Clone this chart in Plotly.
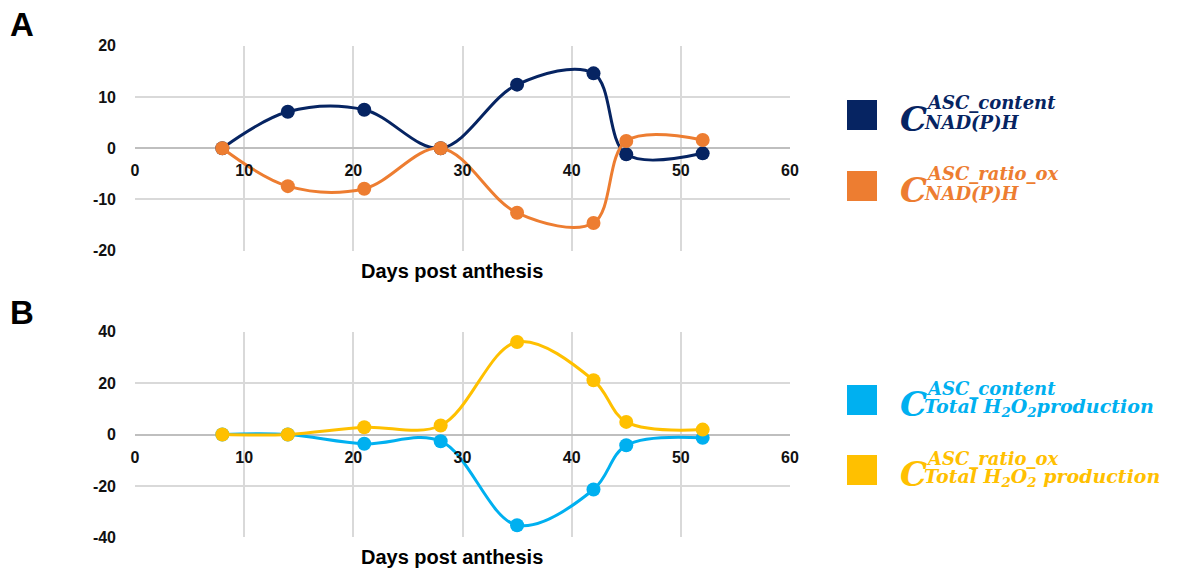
import plotly.graph_objects as go

# Days post anthesis
days = [8, 14, 21, 28, 35, 42, 45, 52]

# Panel A
nadph_content = [0, 7.1, 7.5, 0, 12.4, 14.6, -1.2, -1.0]
nadph_ratio_ox = [0, -7.4, -7.9, 0, -12.6, -14.6, 1.4, 1.6]

# Panel B
h2o2_content = [0, 0, -3.6, -2.6, -35.3, -21.4, -4.2, -1.3]
h2o2_ratio_ox = [0, 0, 2.8, 3.5, 36.0, 21.1, 4.9, 1.9]

# tick values / labels (hyphen minus as in the original)
x_ticks = [0, 10, 20, 30, 40, 50, 60]
y_ticks_a = [-20, -10, 0, 10, 20]
y_ticks_b = [-40, -20, 0, 20, 40]

NAVY = "#062462"
ORANGE = "#ED7D31"
SKY = "#00B0F0"
GOLD = "#FFC000"

W, H = 1182, 571
dom_x = [135 / W, 790 / W]
dom_a = [1 - 250.7 / H, 1 - 45.7 / H]
dom_b = [1 - 537.3 / H, 1 - 331.7 / H]

fig = go.Figure()


def add_series(x, y, color, xa, ya):
    fig.add_trace(go.Scatter(
        x=x, y=y, mode="lines+markers",
        line=dict(color=color, width=3, shape="spline", smoothing=1.0),
        marker=dict(color=color, size=14),
        xaxis=xa, yaxis=ya, showlegend=False, hoverinfo="x+y"))


add_series(days, nadph_content, NAVY, "x", "y")
add_series(days, nadph_ratio_ox, ORANGE, "x", "y")
add_series(days, h2o2_content, SKY, "x2", "y2")
add_series(days, h2o2_ratio_ox, GOLD, "x2", "y2")

tickfont = dict(family="Liberation Sans, Arial", size=16, color="#111111", weight="bold")
grid = "#d9d9d9"

xcommon = dict(range=[0, 60], tickvals=x_ticks, ticktext=[str(v) for v in x_ticks],
               showgrid=True, gridcolor=grid, gridwidth=2,
               zeroline=False, showline=False, ticks="", tickfont=tickfont,
               domain=dom_x, anchor="free", automargin=False, ticklabelstandoff=11)
ycommon = dict(showgrid=True, gridcolor=grid, gridwidth=2,
               zeroline=True, zerolinecolor="#bfbfbf", zerolinewidth=2,
               tickfont=tickfont, ticks="", ticklabelstandoff=18, automargin=False)
fig.update_layout(
    xaxis=dict(xcommon, position=sum(dom_a) / 2),
    xaxis2=dict(xcommon, position=sum(dom_b) / 2),
    yaxis=dict(ycommon, range=[-20, 20], tickvals=y_ticks_a,
               ticktext=[str(v) for v in y_ticks_a], domain=dom_a, anchor="x"),
    yaxis2=dict(ycommon, range=[-40, 40], tickvals=y_ticks_b,
                ticktext=[str(v) for v in y_ticks_b], domain=dom_b, anchor="x2"),
)

# axis titles and panel letters
for ypix in (271, 557):
    fig.add_annotation(text="Days post anthesis", x=452 / W, y=1 - ypix / H,
                       xref="paper", yref="paper", showarrow=False,
                       xanchor="center", yanchor="middle",
                       font=dict(family="Liberation Sans, Arial", size=20,
                                 color="#000000", weight="bold"))
for letter, ypix in (("A", 24.5), ("B", 312.5)):
    fig.add_annotation(text=letter, x=21.5 / W, y=1 - ypix / H, xref="paper", yref="paper",
                       showarrow=False, xanchor="center", yanchor="middle",
                       font=dict(family="Liberation Sans, Arial", size=33,
                                 color="#000000", weight="bold"))

# custom legend: square + stacked C^sup_sub
serif = "DejaVu Serif"
legend_items = [
    (NAVY, 100, "ASC_content", "NAD(P)H", 18),
    (ORANGE, 171, "ASC_ratio_ox", "NAD(P)H", 18),
    (SKY, 385, "ASC_content", "Total H<sub>2</sub>O<sub>2</sub>production", 19),
    (GOLD, 455, "ASC_ratio_ox", "Total H<sub>2</sub>O<sub>2</sub> production", 19),
]
for color, top, sup, sub, subsize in legend_items:
    fig.add_shape(type="rect", xref="paper", yref="paper",
                  x0=847 / W, x1=877 / W, y0=1 - (top + 30) / H, y1=1 - top / H,
                  fillcolor=color, line=dict(width=0))
    fig.add_annotation(text="<b><i>C</i></b>", x=898 / W, y=1 - (top + 19) / H,
                       xref="paper", yref="paper", xanchor="left", yanchor="middle",
                       showarrow=False, font=dict(family=serif, size=34, color=color))
    fig.add_annotation(text="<b><i>" + sup + "</i></b>", x=924 / W, y=1 - (top + 3) / H,
                       xref="paper", yref="paper", xanchor="left", yanchor="middle",
                       showarrow=False, font=dict(family=serif, size=18, color=color))
    fig.add_annotation(text="<b><i>" + sub + "</i></b>", x=922 / W, y=1 - (top + 22) / H,
                       xref="paper", yref="paper", xanchor="left", yanchor="middle",
                       showarrow=False, font=dict(family=serif, size=subsize, color=color))

fig.update_layout(width=W, height=H, margin=dict(l=0, r=0, t=0, b=0),
                  plot_bgcolor="white", paper_bgcolor="white")

fig.write_html("out.html", config={"displayModeBar": False},
               post_script="document.body.style.margin='0';")
